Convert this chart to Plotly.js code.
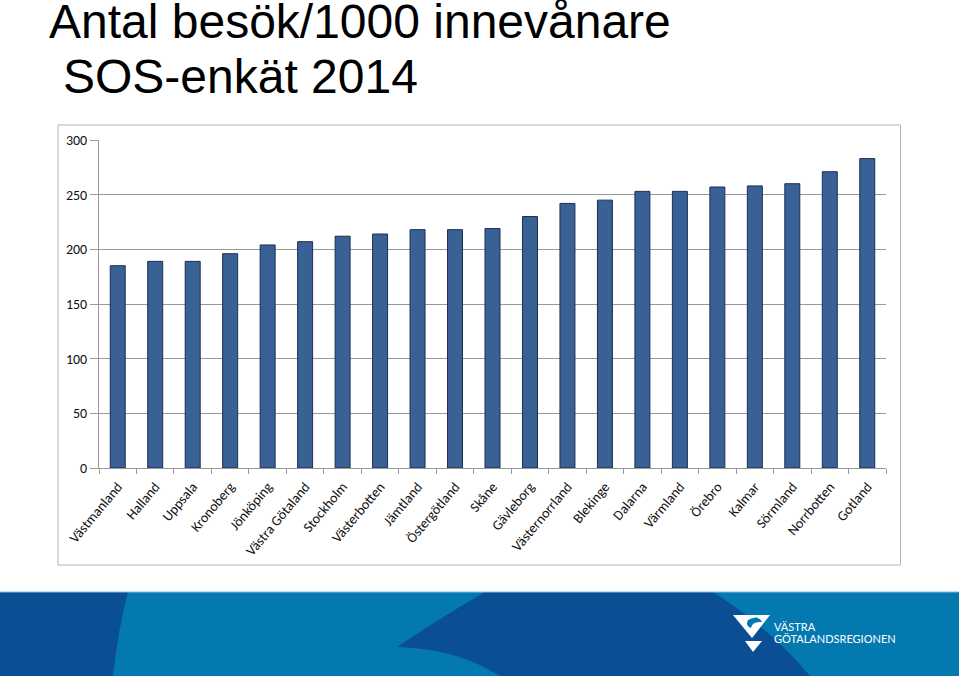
<!DOCTYPE html>
<html>
<head>
<meta charset="utf-8">
<script src="https://cdn.plot.ly/plotly-3.0.1.min.js"></script>
<style>html,body{margin:0;padding:0;background:#fff;}#chart{width:959px;height:676px;}</style>
</head>
<body>
<div id="chart"></div>
<script>
const categories = ["Västmanland","Halland","Uppsala","Kronoberg","Jönköping","Västra Götaland","Stockholm","Västerbotten","Jämtland","Östergötland","Skåne","Gävleborg","Västernorrland","Blekinge","Dalarna","Värmland","Örebro","Kalmar","Sörmland","Norrbotten","Gotland"];
const visits = [185,189,189,196,204,207,212,214,218,218,219,230,242,245,253,253,257,258,260,271,283];
const yTicks = [0,50,100,150,200,250,300];
const titleLine1 = "Antal besök/1000 innevånare";
const titleLine2 = "SOS-enkät 2014";
const logoLine1 = "VÄSTRA";
const logoLine2 = "GÖTALANDSREGIONEN";

const W = 959, H = 676;
const mL = 99, mR = 73, mT = 140, mB = 208;
const L = mL, R = W - mR, T = mT, B = H - mB;
const fx = p => (p - L) / (R - L);
const fy = p => (B - p) / (B - T);
const P = (x, y) => fx(x) + "," + fy(y);

const shapes = [
  // chart border
  {type:"rect", xref:"paper", yref:"paper", x0:fx(58), x1:fx(900.5), y0:fy(565), y1:fy(125),
   line:{color:"#b4b4b4", width:1}, fillcolor:"rgba(0,0,0,0)", layer:"below"},
  // footer band
  {type:"rect", xref:"paper", yref:"paper", x0:fx(0), x1:fx(W), y0:fy(H), y1:fy(592),
   line:{width:0}, fillcolor:"#0479b0", layer:"below"},
  {type:"path", xref:"paper", yref:"paper", layer:"below", line:{width:0}, fillcolor:"#0a4f93",
   path:"M"+P(0,592)+" L"+P(128,592)+" Q"+P(118,630)+" "+P(113,676)+" L"+P(0,676)+" Z"},
  {type:"path", xref:"paper", yref:"paper", layer:"below", line:{width:0}, fillcolor:"#0a4f93",
   path:"M"+P(397,647)+" Q"+P(440,618)+" "+P(485,592)+" L"+P(713,592)+" Q"+P(770,628)+" "+P(810,676)+
        " L"+P(500,676)+" Q"+P(455,648)+" "+P(397,647)+" Z"},
  {type:"line", xref:"paper", yref:"paper", x0:fx(0), x1:fx(W), y0:fy(592), y1:fy(592),
   line:{color:"#7fc0e0", width:1}, layer:"below"},
  // logo
  {type:"path", xref:"paper", yref:"paper", layer:"above", line:{width:0}, fillcolor:"#ffffff",
   path:"M"+P(733,615)+" L"+P(770,615)+" L"+P(752,638)+" Z"},
  {type:"path", xref:"paper", yref:"paper", layer:"above", line:{width:0}, fillcolor:"#0479b0",
   path:"M"+P(748,620)+" Q"+P(758,614)+" "+P(762,622)+" Q"+P(752,621)+" "+P(751,628)+" Q"+P(745,626)+" "+P(748,620)+" Z"},
  {type:"path", xref:"paper", yref:"paper", layer:"above", line:{width:0}, fillcolor:"#ffffff",
   path:"M"+P(745,641)+" L"+P(762,641)+" L"+P(753,652)+" Z"}
];

const annotations = [
  {xref:"paper", yref:"paper", x:fx(47), y:fy(22), xanchor:"left", yanchor:"middle", showarrow:false,
   text:titleLine1, font:{family:"Liberation Sans, Arial, sans-serif", size:48, color:"#000"}},
  {xref:"paper", yref:"paper", x:fx(61), y:fy(77), xanchor:"left", yanchor:"middle", showarrow:false,
   text:titleLine2, font:{family:"Liberation Sans, Arial, sans-serif", size:48, color:"#000"}},
  {xref:"paper", yref:"paper", x:fx(772), y:fy(626), xanchor:"left", yanchor:"middle", showarrow:false,
   text:logoLine1, font:{family:"Lato, sans-serif", size:11, color:"#fff"}},
  {xref:"paper", yref:"paper", x:fx(772), y:fy(638), xanchor:"left", yanchor:"middle", showarrow:false,
   text:logoLine2, font:{family:"Lato, sans-serif", size:11, color:"#fff"}}
];

const trace = {
  type:"bar", x:categories, y:visits,
  marker:{color:"#3a6196", line:{color:"#1b2f52", width:1}},
  hoverinfo:"skip"
};

const layout = {
  width:W, height:H,
  margin:{l:mL, r:mR, t:mT, b:mB, pad:0},
  paper_bgcolor:"#ffffff", plot_bgcolor:"#ffffff",
  showlegend:false, bargap:0.6,
  font:{family:"Carlito, Calibri, Lato, sans-serif", color:"#1a1a1a"},
  xaxis:{type:"category", tickangle:-50, tickfont:{size:14, color:"#111111"},
         ticks:"outside", tickson:"boundaries", ticklen:5, tickcolor:"#999999",
         ticklabelstandoff:4,
         showline:true, linecolor:"#999999", linewidth:1, showgrid:false, automargin:false},
  yaxis:{range:[0,300], tickvals:yTicks, ticktext:yTicks.map(String), tickfont:{size:14, color:"#111111"},
         ticks:"outside", ticklen:8, tickcolor:"#999999",
         showline:true, linecolor:"#999999", linewidth:1,
         showgrid:true, gridcolor:"#999999", gridwidth:1, zeroline:false, automargin:false},
  shapes:shapes, annotations:annotations
};

Plotly.newPlot("chart", [trace], layout, {displayModeBar:false, staticPlot:true});
</script>
</body>
</html>
